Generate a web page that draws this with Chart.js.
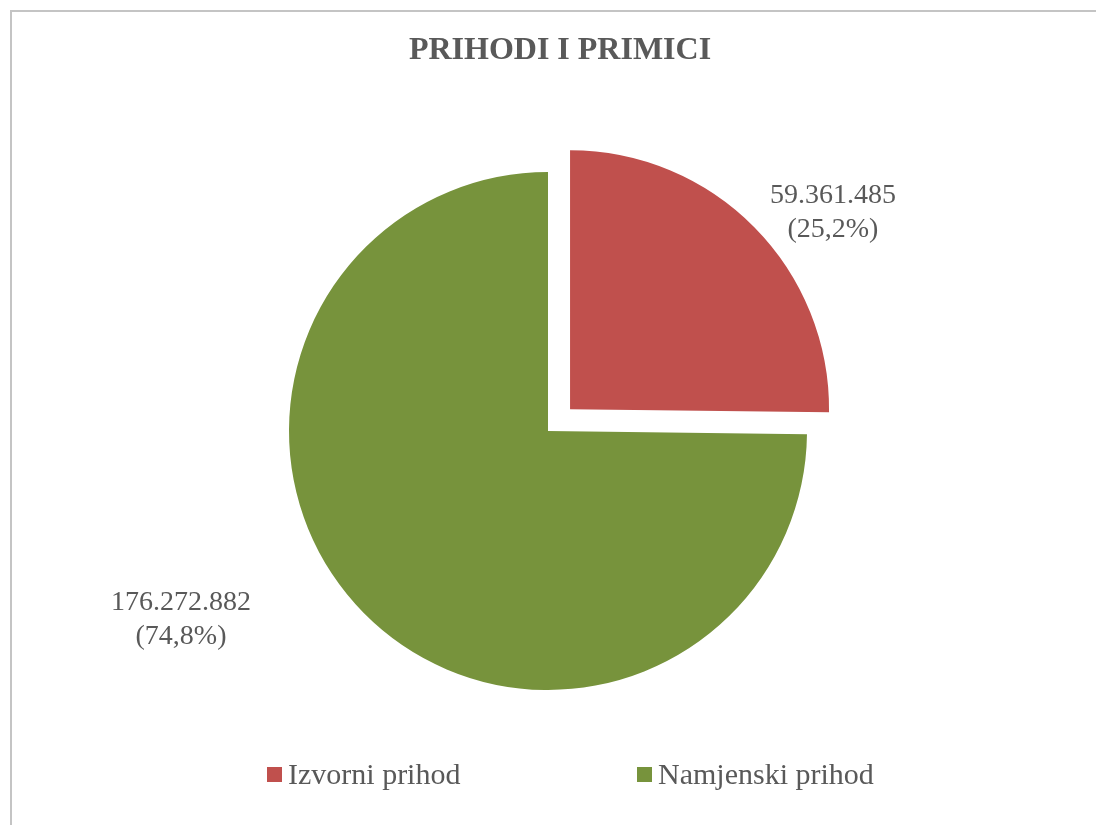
<!DOCTYPE html>
<html>
<head>
<meta charset="utf-8">
<script src="https://cdn.jsdelivr.net/npm/chart.js@4"></script>
<style>
  body { margin: 0; background: #fff; overflow: hidden; }
  #frame { position: absolute; left: 10px; top: 10px; width: 1200px; height: 1000px; border: 2px solid #c4c4c4; }
  #chartTitle { position: absolute; left: 0; width: 1120px; top: 30px; line-height: 40px; text-align: center;
    font: bold 32px "Liberation Serif", "Times New Roman", serif; color: #595959; }
  #legend { position: absolute; top: 0; left: 0; }
  .legend-item { position: absolute; top: 757px; display: flex; align-items: flex-start; white-space: nowrap;
    font: 30px "Liberation Serif", "Times New Roman", serif; line-height: 33px; color: #595959; }
  .legend-box { width: 15px; height: 15px; margin-top: 10px; margin-right: 6px; }
  #wrap { position: absolute; left: 0; top: 0; width: 1096px; height: 825px; }
</style>
</head>
<body>
<div id="frame"></div>
<div id="wrap"><canvas id="pieChart"></canvas></div>
<div id="chartTitle">PRIHODI I PRIMICI</div>
<div id="legend"></div>
<script>
  const chartTitle = 'PRIHODI I PRIMICI';
  const categories = ['Izvorni prihod', 'Namjenski prihod'];
  const values = [59361485, 176272882];
  const colors = ['#C0504D', '#77933C'];

  // where each data label sits, relative to the pie centre, in units of radius
  const labelAnchors = [
    { x: 1.10, y: -0.842 },
    { x: -1.417, y: 0.73 },
  ];
  const legendLeft = [267, 637];

  function formatThousands(n) {
    return String(n).replace(/\B(?=(\d{3})+(?!\d))/g, '.');
  }

  const total = values.reduce((a, b) => a + b, 0);

  const pieLabels = {
    id: 'pieLabels',
    afterDatasetsDraw(chart) {
      const ctx = chart.ctx;
      const meta = chart.getDatasetMeta(0);
      ctx.save();
      ctx.font = '28px "Liberation Serif", "Times New Roman", serif';
      ctx.fillStyle = '#595959';
      ctx.textAlign = 'center';
      ctx.textBaseline = 'middle';
      meta.data.forEach((arc, i) => {
        const r = arc.outerRadius;
        const cx = arc.x + labelAnchors[i].x * r;
        const cy = arc.y + labelAnchors[i].y * r;
        const pct = (values[i] / total * 100).toFixed(1).replace('.', ',');
        ctx.fillText(formatThousands(values[i]), cx, cy - 17);
        ctx.fillText('(' + pct + '%)', cx, cy + 17);
      });
      ctx.restore();
    },
  };

  function buildLegend() {
    const legend = document.getElementById('legend');
    categories.forEach((name, i) => {
      const item = document.createElement('div');
      item.className = 'legend-item';
      item.style.left = legendLeft[i] + 'px';
      const box = document.createElement('span');
      box.className = 'legend-box';
      box.style.background = colors[i];
      const text = document.createElement('span');
      text.textContent = name;
      item.appendChild(box);
      item.appendChild(text);
      legend.appendChild(item);
    });
  }

  function createChart() {
    const ctx = document.getElementById('pieChart').getContext('2d');
    return new Chart(ctx, {
      type: 'pie',
      data: {
        labels: categories,
        datasets: [
          {
            data: values,
            backgroundColor: colors,
            borderWidth: 0,
            offset: [124, 0],
            radius: 259,
          },
        ],
      },
      options: {
        responsive: true,
        maintainAspectRatio: false,
        animation: false,
        layout: {
          padding: { top: 37 },
        },
        plugins: {
          title: { display: false, text: chartTitle },
          legend: { display: false },
          tooltip: { enabled: false },
        },
      },
      plugins: [pieLabels],
    });
  }

  buildLegend();
  createChart();
</script>
</body>
</html>
